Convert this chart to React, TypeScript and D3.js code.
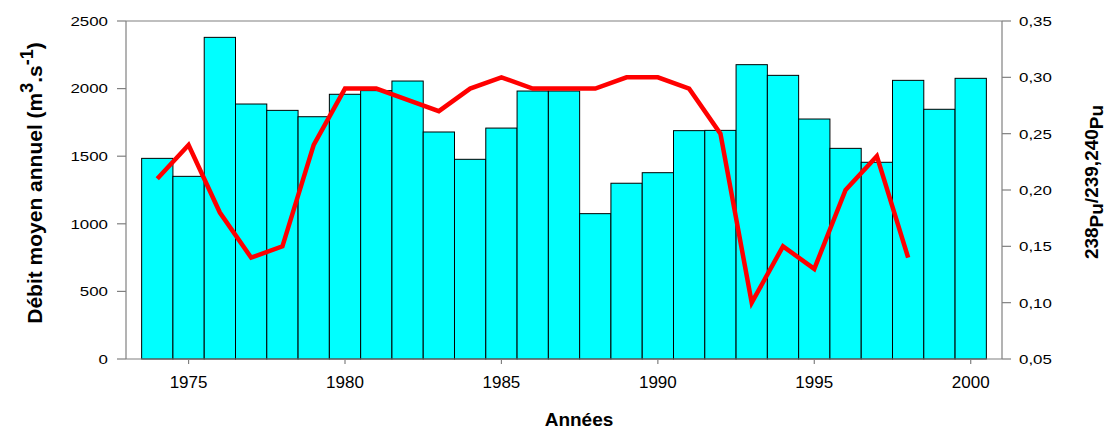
import React from "react";
import * as d3 from "d3";

const years = [1974, 1975, 1976, 1977, 1978, 1979, 1980, 1981, 1982, 1983, 1984, 1985, 1986, 1987, 1988, 1989, 1990, 1991, 1992, 1993, 1994, 1995, 1996, 1997, 1998, 1999, 2000];
const debit = [1484, 1351, 2379, 1886, 1839, 1792, 1958, 1985, 2056, 1679, 1477, 1708, 1982, 1982, 1075, 1300, 1378, 1689, 1691, 2177, 2098, 1775, 1558, 1455, 2061, 1847, 2076];
const ratioYears = [1974, 1975, 1976, 1977, 1978, 1979, 1980, 1981, 1982, 1983, 1984, 1985, 1986, 1987, 1988, 1989, 1990, 1991, 1992, 1993, 1994, 1995, 1996, 1997, 1998];
const ratio = [0.21, 0.24, 0.18, 0.14, 0.15, 0.24, 0.29, 0.29, 0.28, 0.27, 0.29, 0.30, 0.29, 0.29, 0.29, 0.30, 0.30, 0.29, 0.25, 0.10, 0.15, 0.13, 0.20, 0.23, 0.14];
const leftTicks = [0, 500, 1000, 1500, 2000, 2500];
const rightTicks = [0.05, 0.10, 0.15, 0.20, 0.25, 0.30, 0.35];
const xTicks = [1975, 1980, 1985, 1990, 1995, 2000];

const W = 1110;
const H = 430;
const L = 126, R = 1002, T = 21, B = 359;
const AXIS = "#808080";
const FONT = "'Liberation Sans', Arial, sans-serif";

const frLocale = d3.formatLocale({ decimal: ",", thousands: " ", grouping: [3], currency: ["", " €"] });
const fmtRatio = frLocale.format(".2f");

export default function App() {
  const x = d3.scaleLinear().domain([1973, 2001]).range([L, R]);
  const yL = d3.scaleLinear().domain([0, 2500]).range([B, T]);
  const yR = d3.scaleLinear().domain([0.05, 0.35]).range([B, T]);
  const line = d3
    .line<number>()
    .x((_, i) => x(ratioYears[i]))
    .y((d) => yR(d));

  return (
    <svg
      width={W}
      height={H}
      style={{ position: "absolute", left: 0, top: 0, background: "#fff" }}
      fontFamily={FONT}
    >
      {/* bars */}
      {debit.map((v, i) => (
        <rect
          key={years[i]}
          x={x(years[i] - 0.5)}
          y={yL(v)}
          width={x(years[i] + 0.5) - x(years[i] - 0.5)}
          height={yL(0) - yL(v)}
          fill="#00FFFF"
          stroke="#000"
          strokeWidth={1}
        />
      ))}

      {/* frame / axes */}
      <line x1={L} x2={R} y1={T} y2={T} stroke={AXIS} strokeWidth={1.2} />
      <line x1={L} x2={R} y1={B} y2={B} stroke={AXIS} strokeWidth={1.2} />
      <line x1={L} x2={L} y1={T} y2={B} stroke={AXIS} strokeWidth={1.2} />
      <line x1={R} x2={R} y1={T} y2={B} stroke={AXIS} strokeWidth={1.2} />

      {/* ratio line */}
      <path d={line(ratio) || ""} fill="none" stroke="#FF0000" strokeWidth={4.5} strokeLinejoin="miter" />

      {/* left ticks */}
      {leftTicks.map((t) => (
        <g key={"l" + t}>
          <line x1={L - 9} x2={L} y1={yL(t)} y2={yL(t)} stroke={AXIS} strokeWidth={1.2} />
          <g transform={`translate(${L - 18},${yL(t)}) scale(1.25,1)`}>
            <text textAnchor="end" dy="0.36em" fontSize={13.5} fill="#000">
              {t}
            </text>
          </g>
        </g>
      ))}

      {/* right ticks */}
      {rightTicks.map((t) => (
        <g key={"r" + t}>
          <line x1={R} x2={R + 9} y1={yR(t)} y2={yR(t)} stroke={AXIS} strokeWidth={1.2} />
          <g transform={`translate(${R + 17},${yR(t)}) scale(1.25,1)`}>
            <text textAnchor="start" dy="0.36em" fontSize={13.5} fill="#000">
              {fmtRatio(t)}
            </text>
          </g>
        </g>
      ))}

      {/* x ticks */}
      {xTicks.map((t) => (
        <g key={"x" + t}>
          <line x1={x(t)} x2={x(t)} y1={B} y2={B + 5} stroke={AXIS} strokeWidth={1.2} />
          <text x={x(t)} y={388} textAnchor="middle" fontSize={17} fill="#000">
            {t}
          </text>
        </g>
      ))}

      {/* axis titles */}
      <text x={579} y={426} textAnchor="middle" fontSize={19} fontWeight="bold" fill="#000">
        Années
      </text>

      <text
        transform={`translate(42,183) rotate(-90)`}
        textAnchor="middle"
        fontSize={21}
        fontWeight="bold"
        fill="#000"
      >
        Débit moyen annuel (m<tspan dy="-9" fontSize={18}>3</tspan>
        <tspan dy="9">.s</tspan>
        <tspan dy="-9" fontSize={18}>-1</tspan>
        <tspan dy="9">)</tspan>
      </text>

      <text
        transform={`translate(1098,182) rotate(-90)`}
        textAnchor="middle"
        fontSize={19}
        fontWeight="bold"
        fill="#000"
      >
        238<tspan dy="5">Pu</tspan>
        <tspan dy="-5">/239,240</tspan>
        <tspan dy="5">Pu</tspan>
      </text>
    </svg>
  );
}
